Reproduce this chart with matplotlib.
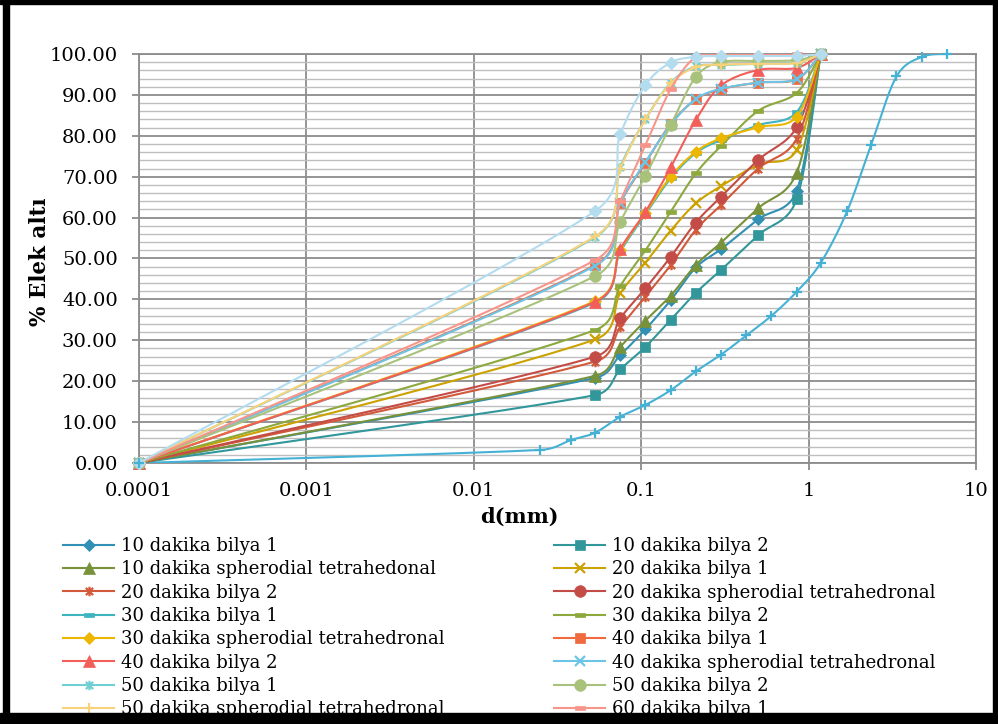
import numpy as np
import matplotlib
matplotlib.use("Agg")
import matplotlib.pyplot as plt
from matplotlib.path import Path
from matplotlib.lines import Line2D
from matplotlib.patches import Rectangle
from matplotlib.ticker import FixedLocator, MultipleLocator, FuncFormatter, NullLocator

# ---- data (sieve size in mm, % passing) ----
sieve = [0.0001, 0.053, 0.075, 0.106, 0.15, 0.212, 0.3, 0.5, 0.85, 1.18]

d10_bilya1 = [0, 20.8, 26.4, 32.7, 39.8, 47.8, 52.3, 59.6, 66.6, 100]
d10_bilya2 = [0, 16.6, 22.9, 28.4, 35.0, 41.6, 47.2, 55.7, 64.6, 100]
d10_sph = [0, 21.3, 28.4, 34.8, 40.9, 48.4, 53.9, 62.3, 71.0, 100]
d20_bilya1 = [0, 30.2, 41.5, 49.0, 56.8, 63.5, 67.7, 73.0, 76.6, 100]
d20_bilya2 = [0, 24.8, 33.2, 40.7, 48.4, 57.0, 63.1, 72.0, 79.3, 100]
d20_sph = [0, 26.0, 35.4, 42.7, 50.4, 58.8, 65.1, 74.1, 82.1, 100]
d30_bilya1 = [0, 39.2, 51.6, 60.8, 69.6, 75.8, 79.0, 82.6, 85.8, 100]
d30_bilya2 = [0, 32.5, 43.3, 52.0, 61.4, 70.8, 77.5, 86.1, 90.5, 100]
d30_sph = [0, 39.6, 52.0, 61.2, 70.0, 76.1, 79.4, 82.1, 84.7, 100]
d40_bilya1 = [0, 48.4, 63.5, 73.4, 82.9, 88.9, 91.4, 93.0, 93.8, 100]
d40_bilya2 = [0, 39.4, 52.3, 61.4, 72.3, 83.9, 92.3, 96.1, 96.6, 100]
d40_sph = [0, 48.2, 63.6, 73.6, 82.7, 89.0, 91.5, 93.0, 93.9, 100]
d50_bilya1 = [0, 55.2, 72.4, 84.0, 93.0, 97.0, 97.3, 97.6, 97.9, 100]
d50_bilya2 = [0, 45.7, 59.0, 70.2, 82.6, 94.4, 98.0, 98.3, 98.5, 100]
d50_sph = [0, 55.4, 72.0, 84.0, 92.8, 96.8, 97.4, 97.6, 97.8, 100]
d60_bilya1 = [0, 49.6, 64.0, 77.7, 91.4, 99.3, 99.8, 99.8, 99.9, 100]
top_series = [0, 61.6, 80.4, 92.4, 97.9, 99.3, 99.5, 99.5, 99.5, 100]

feed_d = [0.0001, 0.025, 0.038, 0.053, 0.075, 0.106, 0.15, 0.212, 0.3, 0.425,
          0.6, 0.85, 1.18, 1.7, 2.36, 3.35, 4.75, 6.7]
feed_y = [0, 3.2, 5.6, 7.4, 11.3, 14.2, 17.8, 22.4, 26.5, 31.2,
          36.0, 41.9, 48.9, 61.6, 77.7, 94.5, 99.3, 100]

labels = ["10 dakika bilya 1", "10 dakika bilya 2", "10 dakika spherodial tetrahedonal",
          "20 dakika bilya 1", "20 dakika bilya 2", "20 dakika spherodial tetrahedronal",
          "30 dakika bilya 1", "30 dakika bilya 2", "30 dakika spherodial tetrahedronal",
          "40 dakika bilya 1", "40 dakika bilya 2", "40 dakika spherodial tetrahedronal",
          "50 dakika bilya 1", "50 dakika bilya 2", "50 dakika spherodial tetrahedronal",
          "60 dakika bilya 1"]
values = [d10_bilya1, d10_bilya2, d10_sph, d20_bilya1, d20_bilya2, d20_sph,
          d30_bilya1, d30_bilya2, d30_sph, d40_bilya1, d40_bilya2, d40_sph,
          d50_bilya1, d50_bilya2, d50_sph, d60_bilya1]

# ---- styles ----
star = Path([(-1, -1), (1, 1), (-1, 1), (1, -1), (0, -1.3), (0, 1.3)],
            [Path.MOVETO, Path.LINETO, Path.MOVETO, Path.LINETO, Path.MOVETO, Path.LINETO])
dash = [(-1, -0.4), (1, -0.4), (1, 0.4), (-1, 0.4), (-1, -0.4)]

colors = ["#3190B4", "#31979B", "#77923A", "#CBA200", "#D2593A", "#C44C46",
          "#3DB5C0", "#8DA83C", "#EDB600", "#F0693F", "#F25F5A", "#6CC5E6",
          "#6FCFD3", "#A8C27C", "#F8D27A", "#F8958A"]
markers = ["D", "s", "^", "x", star, "o", dash, dash, "D", "s", "^", "x", star, "o", "+", dash]
msizes = [5.9, 7.8, 8.4, 6.8, 6.8, 8.4, 6.8, 6.8, 5.9, 7.8, 8.4, 6.8, 6.8, 8.4, 7.2, 6.8]

PX_DEC = 167.4
PX_UNIT = 4.09


def smooth(xs, ys, n=30):
    # Excel-like smoothed line (bezier through points, in screen-like units)
    P = np.column_stack([np.log10(xs) * PX_DEC, np.asarray(ys, float) * PX_UNIT])
    out = [P[:1]]
    t = np.linspace(0, 1, n)[1:, None]
    for i in range(len(P) - 1):
        p0 = P[max(i - 1, 0)]
        p1 = P[i]
        p2 = P[i + 1]
        p3 = P[min(i + 2, len(P) - 1)]
        L = np.hypot(*(p2 - p1))
        v1 = (p2 - p0) / 6
        v2 = (p3 - p1) / 6
        m1, m2 = np.hypot(*v1), np.hypot(*v2)
        if m1 > 0.5 * L:
            v1 = v1 * 0.5 * L / m1
        if m2 > 0.5 * L:
            v2 = v2 * 0.5 * L / m2
        c1 = p1 + v1
        c2 = p2 - v2
        seg = (1 - t) ** 3 * p1 + 3 * (1 - t) ** 2 * t * c1 + 3 * (1 - t) * t ** 2 * c2 + t ** 3 * p2
        out.append(seg)
    Q = np.vstack(out)
    return 10 ** (Q[:, 0] / PX_DEC), Q[:, 1] / PX_UNIT


plt.rcParams["font.family"] = "DejaVu Serif"

fig = plt.figure(figsize=(9.98, 7.24), dpi=100)
ax = fig.add_axes([139 / 998, 1 - 463 / 724, 837 / 998, 409 / 724])

handles = []
for i, (lab, vals) in enumerate(zip(labels, values)):
    sx, sy = smooth(sieve, vals)
    ax.plot(sx, sy, color=colors[i], lw=1.5, zorder=3 + i * 0.01, solid_capstyle="round")
    mk = markers[i]
    line_mk = mk in ("x", "+") or mk is star
    ax.plot(sieve, vals, ls="none", marker=mk, ms=msizes[i], color=colors[i],
            mec=colors[i], mfc="none" if line_mk else colors[i],
            mew=1.6 if line_mk else 0.5, zorder=3.005 + i * 0.01, clip_on=False)
    handles.append(Line2D([], [], color=colors[i], lw=1.5, marker=mk, ms=msizes[i],
                          mec=colors[i], mfc="none" if line_mk else colors[i],
                          mew=1.6 if line_mk else 0.5, label=lab))

# pale blue series drawn on top
sx, sy = smooth(sieve, top_series)
ax.plot(sx, sy, color="#B3DCEF", lw=1.5, zorder=3.3)
ax.plot(sieve, top_series, ls="none", marker="D", ms=6.0, color="#B3DCEF", zorder=3.31, clip_on=False)

# feed curve
sx, sy = smooth(feed_d, feed_y)
ax.plot(sx, sy, color="#45B1D5", lw=1.5, zorder=2.9)
ax.plot(feed_d, feed_y, ls="none", marker="+", ms=7.5, mew=1.6, color="#45B1D5", zorder=3.4, clip_on=False)

ax.set_xscale("log")
ax.set_xlim(1e-4, 10)
ax.set_ylim(0, 100)
ax.xaxis.set_major_locator(FixedLocator([1e-4, 1e-3, 1e-2, 1e-1, 1, 10]))
ax.xaxis.set_minor_locator(NullLocator())
xlabels = {1e-4: "0.0001", 1e-3: "0.001", 1e-2: "0.01", 1e-1: "0.1", 1: "1", 10: "10"}
ax.xaxis.set_major_formatter(FuncFormatter(lambda v, p: min(xlabels.items(), key=lambda kv: abs(np.log10(kv[0]) - np.log10(v)))[1]))
ax.yaxis.set_major_locator(MultipleLocator(10))
ax.yaxis.set_minor_locator(MultipleLocator(2))
ax.yaxis.set_major_formatter(FuncFormatter(lambda v, p: f"{v:.2f}"))

ax.set_axisbelow(True)
ax.grid(which="major", axis="both", color="#8C8C8C", lw=1.3)
ax.grid(which="minor", axis="y", color="#BEBEBE", lw=1.0)
for s in ax.spines.values():
    s.set_color("#8C8C8C")
    s.set_linewidth(1.3)
ax.tick_params(which="major", direction="out", length=4.8, width=1.3, color="#8C8C8C",
               labelsize=14, labelcolor="black")
ax.tick_params(axis="y", which="major", pad=10.5)
ax.tick_params(axis="x", which="major", pad=9)
ax.tick_params(which="minor", length=0)

fig.text(519 / 998, 1 - 517 / 724, "d(mm)", ha="center", va="center", fontsize=15, fontweight="bold")
fig.text(40 / 998, 1 - 262 / 724, "% Elek altı", ha="center", va="center", rotation=90,
         fontsize=15.5, fontweight="bold")

leg_kw = dict(loc="upper left", frameon=False, fontsize=13, handlelength=2.85,
              handletextpad=0.35, labelspacing=0.295, borderpad=0, borderaxespad=0)
leg1 = fig.legend(handles=handles[0::2], bbox_to_anchor=(63 / 998, 1 - 537 / 724), **leg_kw)
leg2 = fig.legend(handles=handles[1::2], bbox_to_anchor=(554 / 998, 1 - 537 / 724), **leg_kw)

# outer black frame
for (x0, y0, w, h) in [(3, 0, 6, 724), (0, 0, 998, 4), (993, 0, 5, 724), (0, 713, 998, 11)]:
    fig.patches.append(Rectangle((x0 / 998, 1 - (y0 + h) / 724), w / 998, h / 724,
                                 transform=fig.transFigure, color="black", zorder=10))

fig.savefig("out.png", dpi=100)
